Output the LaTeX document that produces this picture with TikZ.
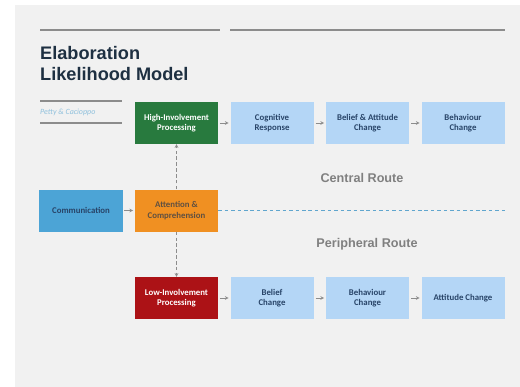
\documentclass[tikz,border=0pt]{standalone}
\usepackage{fontspec}
\setmainfont{Liberation Sans}
\newfontfamily\boxfont{Carlito}
\usepackage{tikz}
\usetikzlibrary{arrows, calc}
\definecolor{slide}{RGB}{241,241,241}
\definecolor{rule}{RGB}{140,140,140}
\definecolor{titlenavy}{RGB}{30,48,66}
\definecolor{hgreen}{RGB}{40,122,62}
\definecolor{commblue}{RGB}{76,164,214}
\definecolor{attorange}{RGB}{240,144,34}
\definecolor{lred}{RGB}{172,18,22}
\definecolor{stepblue}{RGB}{180,214,246}
\definecolor{stepnavy}{RGB}{40,68,104}
\definecolor{routegray}{RGB}{128,128,128}
\definecolor{splitblue}{RGB}{96,166,206}

\begin{document}
\begin{tikzpicture}[x=0.03cm, y=-0.03cm, node distance=2.865cm]

\tikzstyle{stage} = [rectangle, text centered, minimum width=2.49cm, minimum height=1.26cm, align=center, font=\boxfont\bfseries\fontsize{7.5}{9}\selectfont, inner sep=1pt]
\tikzstyle{central} = [stage, fill=stepblue, text=stepnavy]
\tikzstyle{peripheral} = [stage, fill=stepblue, text=stepnavy]
\tikzstyle{route} = [font=\bfseries\fontsize{10.8}{12}\selectfont, text=routegray]

\tikzstyle{arrow} = [->, >=stealth, rule, thin, shorten >=1.5pt, shorten <=1.5pt]
\tikzstyle{dasharrow} = [->, >=stealth, rule, thin, dash pattern=on 3pt off 2pt]

% slide
\useasboundingbox (0,0) rectangle (520,387);
\fill[white] (0,0) rectangle (520,387);
\fill[slide] (15,5) rectangle (520,387);
\draw[rule, line width=1pt] (40,30) -- (220,30);
\draw[rule, line width=1pt] (230,30) -- (505,30);
\draw[rule, line width=0.9pt] (40,101) -- (122,101);
\draw[rule, line width=0.9pt] (40,123) -- (122,123);

\node (title) [anchor=north west, align=left, inner sep=0pt, text=titlenavy, font=\bfseries\fontsize{15.5}{18}\selectfont] at (40,46) {Elaboration\\Likelihood Model};
\node (authors) [anchor=west, inner sep=0pt, text=splitblue!70, font=\boxfont\itshape\fontsize{6.8}{8}\selectfont] at (40,112.5) {Petty \& Cacioppo};

\node (comm) [stage, fill=commblue, text=stepnavy] at (81,210.5) {Communication};
\node (att) [stage, fill=attorange, text=titlenavy!60!brown, right of = comm] {Attention \&\\Comprehension};
\node (high) [stage, fill=hgreen, text=white, above of = att, yshift=-0.24cm] {High-Involvement\\Processing};
\node (low) [stage, fill=lred, text=white, below of = att, yshift=0.24cm] {Low-Involvement\\Processing};

\node (cog) [central, right of = high] {Cognitive\\Response};
\node (bac) [central, right of = cog] {Belief \& Attitude\\Change};
\node (bhc) [central, right of = bac] {Behaviour\\Change};

\node (bel) [peripheral, right of = low] {Belief\\Change};
\node (bhp) [peripheral, right of = bel] {Behaviour\\Change};
\node (atc) [peripheral, right of = bhp] {Attitude Change};

\node (cr) [route] at (362,177.5) {Central Route};
\node (pr) [route] at (367,244) {Peripheral Route};
\coordinate (split) at (505,210.5);

\draw [arrow] (comm) -- (att);
\draw [dasharrow] (att) -- (high);
\draw [dasharrow] (att) -- (low);
\draw [splitblue, thin, dash pattern=on 3pt off 2.5pt] (att.east) -- (split);
\draw [arrow] (high) -- (cog);
\draw [arrow] (cog) -- (bac);
\draw [arrow] (bac) -- (bhc);
\draw [arrow] (low) -- (bel);
\draw [arrow] (bel) -- (bhp);
\draw [arrow] (bhp) -- (atc);

\end{tikzpicture}
\end{document}
